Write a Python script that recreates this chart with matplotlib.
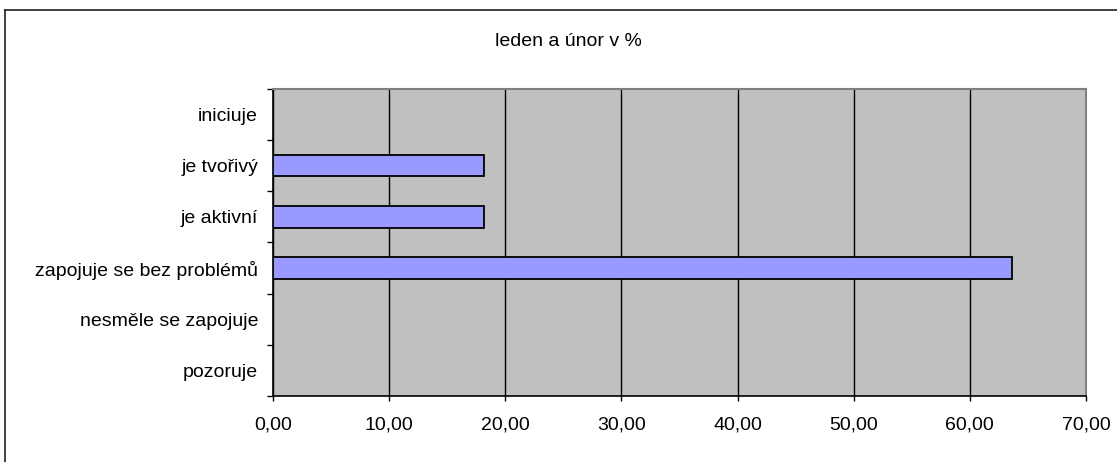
import matplotlib
matplotlib.use('Agg')
import matplotlib.pyplot as plt
from matplotlib.lines import Line2D
from matplotlib.ticker import FuncFormatter, FixedLocator

# Data (bottom to top, as drawn on the chart)
categories = ['pozoruje', 'nesměle se zapojuje', 'zapojuje se bez problémů',
              'je aktivní', 'je tvořivý', 'iniciuje']
values = [0.0, 0.0, 63.64, 18.18, 18.18, 0.0]
x_ticks = [0, 10, 20, 30, 40, 50, 60, 70]
title = 'leden a únor v %'

plt.rcParams['font.family'] = ['Liberation Sans', 'DejaVu Sans']
plt.rcParams['font.size'] = 14

fig = plt.figure(figsize=(11.17, 4.62), dpi=100)
ax = fig.add_axes([273 / 1117, 1 - 396 / 462, (1086 - 273) / 1117, (396 - 89) / 462])

ax.set_facecolor('#C0C0C0')
positions = list(range(len(categories)))
ax.barh(positions, values, height=0.42, color='#9999FF',
        edgecolor='black', linewidth=1.3, zorder=3)

ax.set_xlim(0, 70)
ax.set_ylim(-0.5, len(categories) - 0.5)

# x axis: ticks, comma decimal labels, vertical grid
ax.set_xticks(x_ticks)
ax.xaxis.set_major_formatter(FuncFormatter(lambda v, p: f'{v:.2f}'.replace('.', ',')))
ax.tick_params(axis='x', direction='out', length=3.6, width=1, pad=11.5, colors='black')
ax.grid(axis='x', color='black', linewidth=1, zorder=1)

# y axis: labels in the middle of each band, ticks on band borders
ax.set_yticks(positions)
ax.set_yticklabels(categories)
ax.tick_params(axis='y', which='major', length=0, pad=10.8)
ax.yaxis.set_minor_locator(FixedLocator([p - 0.5 for p in positions] + [len(categories) - 0.5]))
ax.tick_params(axis='y', which='minor', direction='out', length=4.3, width=1)

for side in ['left', 'bottom']:
    ax.spines[side].set_color('black')
    ax.spines[side].set_linewidth(1.2)
for side in ['top', 'right']:
    ax.spines[side].set_color('#808080')
    ax.spines[side].set_linewidth(1.5)
ax.set_axisbelow(True)

fig.text(568 / 1117, 1 - 46 / 462, title, ha='center', va='baseline', fontsize=14)

# chart border (only top and left visible in the reference)
fig.add_artist(Line2D([4.5 / 1117, 1], [1 - 9.5 / 462, 1 - 9.5 / 462],
                      transform=fig.transFigure, color='#202020', linewidth=1.2))
fig.add_artist(Line2D([4.5 / 1117, 4.5 / 1117], [0, 1 - 9.5 / 462],
                      transform=fig.transFigure, color='#202020', linewidth=1.2))

fig.savefig('out.png', dpi=100)
